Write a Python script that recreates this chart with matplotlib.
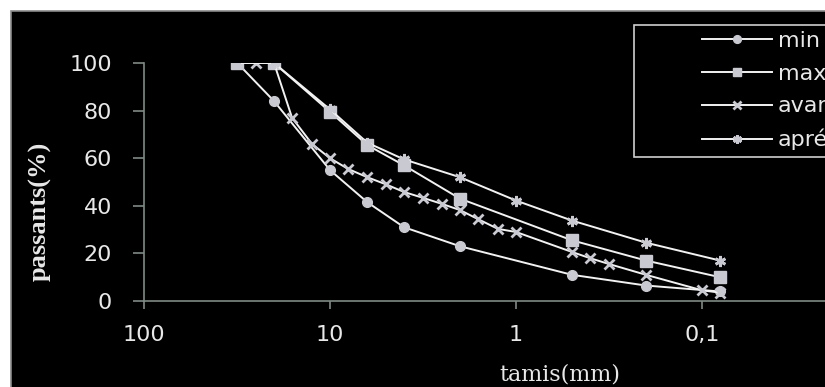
import numpy as np
import matplotlib
matplotlib.use('Agg')
from matplotlib import pyplot as plt
from matplotlib.patches import Rectangle
from matplotlib.ticker import FixedLocator, FixedFormatter, NullLocator

# sieve sizes (mm) and passing percentages
tamisMin = [31.5, 20, 10, 6.3, 4, 2, 0.5, 0.2, 0.08]
passMin = [100, 84, 55, 41.5, 31, 23, 11, 6.5, 4]

tamisMax = [31.5, 20, 10, 6.3, 4, 2, 0.5, 0.2, 0.08]
passMax = [100, 100, 79.5, 65.5, 57, 43, 25.5, 17, 10]

tamisAvant = [31.5, 25, 20, 16, 12.5, 10, 8, 6.3, 5, 4, 3.15, 2.5, 2,
              1.6, 1.25, 1, 0.5, 0.4, 0.315, 0.2, 0.1, 0.08]
passAvant = [100, 100, 100, 77, 66, 60, 55.5, 52, 49, 45.8, 43.3, 40.8, 38.2,
             34.4, 30.3, 29, 20.6, 18, 15.5, 11, 4.5, 3.5]

tamisApres = [31.5, 20, 10, 6.3, 4, 2, 1, 0.5, 0.2, 0.08]
passApres = [100, 100, 80.5, 66.5, 59.5, 52, 42.2, 33.8, 24.5, 17]

xTicks = [100, 10, 1, 0.1]
xTickLabels = ['100', '10', '1', '0,1']
yTicks = [0, 20, 40, 60, 80, 100]

W, H = 825, 387
txtColor = '#e8e8e8'
lineColor = '#f2f2f2'
markColor = '#c9c9d2'
axisColor = '#7f8a84'

fig = plt.figure(figsize=(W/100, H/100), dpi=100)
fig.patch.set_facecolor('white')

# black chart area with thin grey border
fig.add_artist(Rectangle((10.5/W, -0.1), 1.2, (H - 11 + 0.1*H)/H, transform=fig.transFigure,
                         facecolor='black', edgecolor='#8a8a8a', lw=1.2, zorder=-1))

ax = fig.add_axes([144/W, 86/H, 744/W, 238/H])
ax.set_facecolor('none')

ax.plot(tamisMin, passMin, color=lineColor, lw=1.4, marker='o', ms=7,
        mfc=markColor, mec=markColor, label='min')
ax.plot(tamisMax, passMax, color=lineColor, lw=1.4, marker='s', ms=8,
        mfc=markColor, mec=markColor, label='max')
ax.plot(tamisAvant, passAvant, color=lineColor, lw=1.4, marker='x', ms=7, mew=2,
        mfc=markColor, mec=markColor, label='avant')
ax.plot(tamisApres, passApres, color=lineColor, lw=1.4, marker=(6, 2, 0), ms=8, mew=2,
        mfc=markColor, mec=markColor, label='aprés')

ax.set_xscale('log')
ax.set_xlim(100, 0.01)
ax.set_ylim(0, 100)
ax.xaxis.set_major_locator(FixedLocator(xTicks))
ax.xaxis.set_major_formatter(FixedFormatter(xTickLabels))
ax.xaxis.set_minor_locator(NullLocator())
ax.set_yticks(yTicks)

for s in ['top', 'right']:
    ax.spines[s].set_visible(False)
for s in ['left', 'bottom']:
    ax.spines[s].set_color(axisColor)
    ax.spines[s].set_linewidth(1.2)

ax.tick_params(axis='x', colors=axisColor, labelcolor=txtColor, labelsize=16,
               length=6, width=1.2, pad=11)
ax.tick_params(axis='y', colors=axisColor, labelcolor=txtColor, labelsize=16,
               length=8, width=1.2, pad=15)

fig.text(40/W, 1 - 211/H, 'passants(%)', rotation=90, ha='center', va='center',
         color=txtColor, fontsize=19, fontweight='bold', family='Liberation Serif')
fig.text(560/W, 1 - 375/H, 'tamis(mm)', ha='center', va='center',
         color=txtColor, fontsize=16, family='DejaVu Serif')

# legend box, runs off the right edge
fig.add_artist(Rectangle((634/W, 1 - 157/H), 0.5, 132/H, transform=fig.transFigure,
                         facecolor='black', edgecolor='#cfcfcf', lw=1.2, zorder=-0.5))
handles, labels = ax.get_legend_handles_labels()
leg = fig.legend(handles, labels, loc='upper left', bbox_to_anchor=(702/W, 1 - 31/H),
                 frameon=False, fontsize=16, markerscale=0.8,
                 handlelength=3.15, handletextpad=0.27, labelspacing=0.57,
                 borderpad=0, borderaxespad=0)
leg.set_zorder(3)
for t in leg.get_texts():
    t.set_color(txtColor)

fig.savefig('out.png', dpi=100, facecolor=fig.get_facecolor())
